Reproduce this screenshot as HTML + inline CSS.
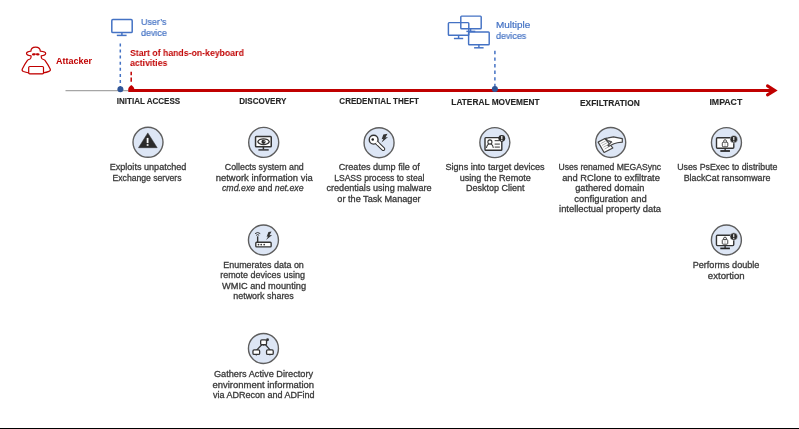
<!DOCTYPE html>
<html><head><meta charset="utf-8">
<style>
html,body{margin:0;padding:0;background:#fff;}
body{width:799px;height:429px;position:relative;overflow:hidden;font-family:"Liberation Sans",sans-serif;}
.a{position:absolute;}
.h{position:absolute;will-change:transform;font-weight:bold;font-size:9.5px;line-height:10px;color:#262626;-webkit-text-stroke:0.15px #262626;white-space:nowrap;text-align:center;width:140px;}
.t{position:absolute;font-size:9px;line-height:10px;color:#3a3a3a;-webkit-text-stroke:0.3px #3a3a3a;will-change:transform;white-space:nowrap;text-align:center;width:200px;}
.t span{display:inline-block;transform-origin:50% 50%;}
.lbl{position:absolute;will-change:transform;font-size:9px;white-space:nowrap;}
.ic{position:absolute;width:36px;height:36px;}
.bot{position:absolute;left:0;top:428px;width:799px;height:1px;background:#000;}
</style></head><body>

<!-- timeline -->
<svg class="a" style="left:0;top:0" width="799" height="429" viewBox="0 0 799 429">
  <line x1="65.5" y1="90.6" x2="130" y2="90.6" stroke="#a6a6a6" stroke-width="1.3"/>
  <line x1="130" y1="90.4" x2="775" y2="90.4" stroke="#c00000" stroke-width="3"/>
  <polyline points="767.5,85.9 774.8,90.4 767.5,94.9" fill="none" stroke="#c00000" stroke-width="3" stroke-linecap="round" stroke-linejoin="miter"/>
  <path d="M128.3 91.9 L128.3 89.2 C128.3 87.6 129.6 86 131.3 84.9 C133 86 134.3 87.6 134.3 89.2 L134.3 91.9 Z" fill="#c00000"/>
  <line x1="120.3" y1="43.4" x2="120.3" y2="87" stroke="#4472c4" stroke-width="1.5" stroke-dasharray="3,3.1"/>
  <circle cx="120.4" cy="89.2" r="3" fill="#2f5597"/>
  <line x1="131.2" y1="71.8" x2="131.2" y2="75.2" stroke="#c00000" stroke-width="1.5"/><line x1="131.2" y1="77.6" x2="131.2" y2="81.8" stroke="#c00000" stroke-width="1.5"/>
  <line x1="494.9" y1="50.8" x2="494.9" y2="87" stroke="#4472c4" stroke-width="1.5" stroke-dasharray="3.4,3.2"/>
  <circle cx="494.9" cy="89" r="3" fill="#2f5597"/>

  <!-- attacker icon -->
  <g transform="translate(18,42)" fill="none" stroke="#c00000" stroke-width="1.2" stroke-linejoin="round">
    <path d="M12.9 9.2 C12.9 6.3 14.2 5.1 17.6 5.1 C21 5.1 22.3 6.3 22.3 9.2 C25.6 9.5 27.7 10.3 27.7 11.5 C27.7 12.9 25.4 13.6 23.2 13.9 C23.3 15 23.2 15.8 23.9 16.6 C24.8 17.4 26 17.6 26.8 18.2 C28.8 21 31 24.5 32.2 27 C32.6 28 32.2 28.9 31 29.4 C27.5 30.8 22.5 31.4 18.2 31.4 C13.7 31.4 8.8 30.8 5.4 29.5 C4.2 29 3.9 28 4.3 27 C5.5 24.5 7.6 21 9.6 18.2 C10.4 17.6 11.6 17.4 12.5 16.6 C13.2 15.8 13.1 15 13.1 13.9 C10.9 13.6 8.5 12.9 8.5 11.5 C8.5 10.3 10.6 9.5 12.9 9.2 Z"/>
    <rect x="10.7" y="24.5" width="14.8" height="7.3" rx="1" fill="#fff"/>
    <ellipse cx="15.7" cy="12.4" rx="1.8" ry="1.1" fill="#c00000" stroke="none"/>
    <ellipse cx="19.8" cy="12.4" rx="1.8" ry="1.1" fill="#c00000" stroke="none"/>
    <line x1="15.6" y1="12.1" x2="19.8" y2="12.1" stroke-width="0.9"/>
  </g>

  <!-- user's device monitor -->
  <g fill="none" stroke="#4472c4" stroke-width="1.5">
    <rect x="111.8" y="19.6" width="20.4" height="13" rx="1.1"/>
    <line x1="121.9" y1="32.6" x2="121.9" y2="35.2"/>
    <line x1="116.8" y1="35.4" x2="126.6" y2="35.4"/>
  </g>

  <!-- multiple devices -->
  <g fill="none" stroke="#4472c4" stroke-width="1.45">
    <rect x="460.8" y="16.1" width="20.4" height="12.7" rx="0.8"/>
    <rect x="448.4" y="22.6" width="20.4" height="12.7" rx="0.8"/>
    <line x1="470.6" y1="28.8" x2="470.6" y2="31.4"/>
    <line x1="466.4" y1="31.4" x2="475.3" y2="31.4"/>
    <line x1="458.6" y1="35.3" x2="458.6" y2="38.4"/>
    <line x1="453.9" y1="38.5" x2="463.2" y2="38.5"/>
    <rect x="468.6" y="32" width="20.6" height="12.7"  rx="0.8"/>
    <line x1="478.9" y1="44.7" x2="478.9" y2="47.8"/>
    <line x1="474.1" y1="47.8" x2="483.6" y2="47.8"/>
  </g>
</svg>

<!-- labels -->
<div class="lbl" style="left:56px;top:55.9px;line-height:10px;font-weight:bold;color:#c00000;">Attacker</div>
<div class="lbl" style="left:140.8px;top:17.4px;line-height:10.6px;font-size:9.4px;color:#4472c4;-webkit-text-stroke:0.2px #4472c4;transform:scaleX(0.95);transform-origin:0 0;">User’s<br>device</div>
<div class="lbl" style="left:496.3px;top:20.1px;line-height:10px;font-size:9.4px;color:#4472c4;-webkit-text-stroke:0.2px #4472c4;transform:scaleX(1.06);transform-origin:0 0;">Multiple</div>
<div class="lbl" style="left:496.3px;top:30.6px;line-height:10px;font-size:9.4px;color:#4472c4;-webkit-text-stroke:0.2px #4472c4;transform:scaleX(0.95);transform-origin:0 0;">devices</div>
<div class="lbl" style="left:129.5px;top:47.5px;line-height:10.3px;font-size:9.4px;font-weight:bold;color:#c00000;transform:scaleX(0.93);transform-origin:0 0;">Start of hands-on-keyboard<br>activities</div>

<!-- headings -->
<div class="h" style="left:77.75px;top:96.3px;"><span style="display:inline-block;transform:scaleX(0.8469)">INITIAL ACCESS</span></div>
<div class="h" style="left:193.25px;top:96.3px;"><span style="display:inline-block;transform:scaleX(0.8488)">DISCOVERY</span></div>
<div class="h" style="left:309.15px;top:96.3px;"><span style="display:inline-block;transform:scaleX(0.8441)">CREDENTIAL THEFT</span></div>
<div class="h" style="left:424.80px;top:97.3px;"><span style="display:inline-block;transform:scaleX(0.8744)">LATERAL MOVEMENT</span></div>
<div class="h" style="left:540.40px;top:98.3px;"><span style="display:inline-block;transform:scaleX(0.8811)">EXFILTRATION</span></div>
<div class="h" style="left:656.15px;top:97.3px;"><span style="display:inline-block;transform:scaleX(0.9189)">IMPACT</span></div>

<!-- descriptions -->
<div class="t" style="left:47.75px;top:162.00px;"><span style="transform:scaleX(1.009)">Exploits unpatched</span></div>
<div class="t" style="left:47.40px;top:173.00px;"><span style="transform:scaleX(0.958)">Exchange servers</span></div>
<div class="t" style="left:163.55px;top:162.00px;"><span style="transform:scaleX(0.981)">Collects system and</span></div>
<div class="t" style="left:163.60px;top:173.00px;"><span style="transform:scaleX(1.049)">network information via</span></div>
<div class="t" style="left:163.35px;top:183.00px;"><span style="transform:scaleX(0.977)"><i>cmd.exe</i> and <i>net.exe</i></span></div>
<div class="t" style="left:279.25px;top:162.00px;"><span style="transform:scaleX(1.006)">Creates dump file of</span></div>
<div class="t" style="left:279.30px;top:173.00px;"><span style="transform:scaleX(0.955)">LSASS process to steal</span></div>
<div class="t" style="left:279.20px;top:183.00px;"><span style="transform:scaleX(1.010)">credentials using malware</span></div>
<div class="t" style="left:279.05px;top:194.00px;"><span style="transform:scaleX(1.016)">or the Task Manager</span></div>
<div class="t" style="left:395.10px;top:162.00px;"><span style="transform:scaleX(1.012)">Signs into target devices</span></div>
<div class="t" style="left:395.10px;top:173.00px;"><span style="transform:scaleX(1.008)">using the Remote</span></div>
<div class="t" style="left:394.90px;top:183.00px;"><span style="transform:scaleX(0.997)">Desktop Client</span></div>
<div class="t" style="left:510.30px;top:162.00px;"><span style="transform:scaleX(0.954)">Uses renamed MEGASync</span></div>
<div class="t" style="left:510.65px;top:173.00px;"><span style="transform:scaleX(1.039)">and RClone to exfiltrate</span></div>
<div class="t" style="left:510.35px;top:183.00px;"><span style="transform:scaleX(1.025)">gathered domain</span></div>
<div class="t" style="left:510.55px;top:194.00px;"><span style="transform:scaleX(1.048)">configuration and</span></div>
<div class="t" style="left:510.10px;top:204.00px;"><span style="transform:scaleX(1.039)">intellectual property data</span></div>
<div class="t" style="left:626.60px;top:162.00px;"><span style="transform:scaleX(0.977)">Uses PsExec to distribute</span></div>
<div class="t" style="left:626.50px;top:173.00px;"><span style="transform:scaleX(0.984)">BlackCat ransomware</span></div>
<div class="t" style="left:164.10px;top:260.00px;"><span style="transform:scaleX(0.995)">Enumerates data on</span></div>
<div class="t" style="left:163.35px;top:270.00px;"><span style="transform:scaleX(0.996)">remote devices using</span></div>
<div class="t" style="left:163.70px;top:281.00px;"><span style="transform:scaleX(1.024)">WMIC and mounting</span></div>
<div class="t" style="left:163.70px;top:291.00px;"><span style="transform:scaleX(0.993)">network shares</span></div>
<div class="t" style="left:163.55px;top:369.00px;"><span style="transform:scaleX(1.022)">Gathers Active Directory</span></div>
<div class="t" style="left:163.25px;top:380.00px;"><span style="transform:scaleX(1.053)">environment information</span></div>
<div class="t" style="left:163.55px;top:390.00px;"><span style="transform:scaleX(1.001)">via ADRecon and ADFind</span></div>
<div class="t" style="left:626.45px;top:260.00px;"><span style="transform:scaleX(1.011)">Performs double</span></div>
<div class="t" style="left:626.45px;top:271.00px;"><span style="transform:scaleX(1.066)">extortion</span></div>

<!-- icon circles -->
<svg class="a" style="left:0;top:0" width="799" height="429" viewBox="0 0 799 429">
  <defs>
    <g id="circ"><circle cx="18" cy="18" r="15" fill="#dde6f5" stroke="#5e5e5e" stroke-width="1.4"/></g>
  </defs>

  <!-- 1 warning -->
  <g transform="translate(130,124.3)">
    <use href="#circ"/>
    <path d="M17.8 8.6 L27.2 23.4 L8.5 23.4 Z" fill="#2b2b2b" stroke="#2b2b2b" stroke-width="0.5" stroke-linejoin="round"/>
    <line x1="17.6" y1="13.6" x2="17.6" y2="18.8" stroke="#fff" stroke-width="1.8"/>
    <rect x="16.7" y="19.9" width="1.8" height="1.6" fill="#fff"/>
  </g>

  <!-- 2 eye monitor -->
  <g transform="translate(245.7,124.4)">
    <use href="#circ"/>
    <rect x="9.85" y="12.15" width="15.7" height="10.3" rx="0.8" fill="#fff" stroke="#333" stroke-width="1.5"/>
    <line x1="17.7" y1="22.4" x2="17.7" y2="25" stroke="#333" stroke-width="1.5"/>
    <line x1="12.7" y1="25.5" x2="23" y2="25.5" stroke="#333" stroke-width="1.5"/>
    <path d="M12.1 17.3 C13.8 13.6 21.9 13.6 23.6 17.3 C21.9 21 13.8 21 12.1 17.3 Z" fill="#fff" stroke="#333" stroke-width="1.3" stroke-linejoin="round"/>
    <circle cx="17.8" cy="17.4" r="2.1" fill="#2a2a2a"/>
    <circle cx="18.5" cy="16.8" r="0.6" fill="#ddd"/>
  </g>

  <!-- 3 key -->
  <g transform="translate(361.05,124.7)">
    <use href="#circ"/>
    <path d="M15.5 17.8 L22.2 24.3" stroke="#333" stroke-width="4" stroke-linecap="round"/>
    <path d="M15.5 17.8 L22.2 24.3" stroke="#fff" stroke-width="1.9" stroke-linecap="round"/>
    <circle cx="12.6" cy="15" r="4.4" fill="#fff" stroke="#333" stroke-width="1.4"/>
    <path d="M15.3 17.6 L17.6 19.9" stroke="#fff" stroke-width="2.1"/>
    <circle cx="11.7" cy="14.7" r="1.25" fill="#1a1a1a"/>
    <path d="M22.3 9.8 L26.4 9 L24.4 12.9 L27 12.4 L20.5 17.8 L22.4 14 L20.6 14.5 Z" fill="#333"/>
  </g>

  <!-- 4 id card -->
  <g transform="translate(476.85,124.6)">
    <use href="#circ"/>
    <rect x="8.15" y="13" width="16.8" height="12.7" rx="0.8" fill="#fff" stroke="#333" stroke-width="1.4"/>
    <path d="M9.6 23.3 Q10.6 18.9 13.05 19.2 Q15.5 19 16.5 23.3" fill="none" stroke="#333" stroke-width="1.05"/>
    <circle cx="13.05" cy="17.3" r="2.05" fill="#fff" stroke="#333" stroke-width="1.05"/>
    <line x1="17.8" y1="16" x2="22.6" y2="16" stroke="#555" stroke-width="1.2"/>
    <line x1="17.8" y1="19.5" x2="23" y2="19.5" stroke="#555" stroke-width="1.2"/>
    <line x1="17.8" y1="22.5" x2="23" y2="22.5" stroke="#555" stroke-width="1.2"/>
    <circle cx="24.95" cy="13.7" r="3.4" fill="#2b2b2b"/>
    <line x1="24.95" y1="11.4" x2="24.95" y2="14.6" stroke="#fff" stroke-width="1.2"/>
    <rect x="24.35" y="15.3" width="1.2" height="1" fill="#fff"/>
  </g>

  <!-- 5 hand/doc -->
  <g transform="translate(592.7,124.45)">
    <use href="#circ"/>
    <path d="M5.4 17.7 L12.2 14.1 L20.1 23.5 L11.4 28 Z" fill="#fff" stroke="#444" stroke-width="1.2" stroke-linejoin="round"/>
    <line x1="8" y1="19.2" x2="12.9" y2="16.6" stroke="#999" stroke-width="0.8"/>
    <line x1="9.3" y1="21" x2="14.2" y2="18.4" stroke="#999" stroke-width="0.8"/>
    <line x1="10.6" y1="22.8" x2="15.5" y2="20.2" stroke="#999" stroke-width="0.8"/>
    <line x1="11.9" y1="24.6" x2="16.8" y2="22" stroke="#999" stroke-width="0.8"/>
    <path d="M12.2 14.1 L15.5 13.5 L20.8 12.4 L24.5 13.2 L29.6 14.2 L29.6 17.7 L24.7 18.3 L21.2 19.3 L18.6 20.6 L16.1 21.8 L15.2 21 L17.4 18.9 L18.8 17.4 L15.6 16.4 Z" fill="#fff" stroke="#444" stroke-width="1.2" stroke-linejoin="round"/>
    <path d="M15.6 16.4 Q18 16.6 19.6 18" fill="none" stroke="#666" stroke-width="0.7"/>
  </g>

  <!-- 6 lock monitor (impact) -->
  <g transform="translate(708.45,124.6)">
    <use href="#circ"/>
    <rect x="8.05" y="13.2" width="17.3" height="10.4" rx="1" fill="#fff" stroke="#333" stroke-width="1.4"/>
    <line x1="16.7" y1="23.6" x2="16.7" y2="26.2" stroke="#333" stroke-width="1.4"/>
    <line x1="11.9" y1="26.4" x2="21.5" y2="26.4" stroke="#222" stroke-width="1.7"/>
    <path d="M15.1 18 L15.1 17.1 Q15.1 15.1 16.6 15.1 Q18.1 15.1 18.1 17.1 L18.1 18" fill="none" stroke="#444" stroke-width="1"/>
    <rect x="13.85" y="17.6" width="5.5" height="4.6" rx="0.9" fill="#fff" stroke="#444" stroke-width="1"/>
    <line x1="16.6" y1="18.4" x2="16.6" y2="21.4" stroke="#999" stroke-width="0.6"/>
    <circle cx="25.35" cy="14.6" r="3.75" fill="#2b2b2b" stroke="#e8eef8" stroke-width="0.5"/>
    <line x1="25.35" y1="12.3" x2="25.35" y2="15.3" stroke="#fff" stroke-width="1.1"/>
    <rect x="24.8" y="16.1" width="1.1" height="1" fill="#fff"/>
  </g>

  <!-- 7 router -->
  <g transform="translate(245.45,222)">
    <use href="#circ"/>
    <rect x="10.35" y="20.25" width="15.35" height="4.6" rx="0.9" fill="#fff" stroke="#333" stroke-width="1.35"/>
    <line x1="12.2" y1="14.3" x2="12.2" y2="20.2" stroke="#333" stroke-width="1.4"/>
    <path d="M10.7 13.3 Q12.2 12 13.7 13.3" fill="none" stroke="#333" stroke-width="1"/>
    <path d="M9.6 11.6 Q12.2 9.4 14.8 11.6" fill="none" stroke="#333" stroke-width="1"/>
    <circle cx="13.05" cy="22.6" r="0.85" fill="#333"/>
    <circle cx="15.75" cy="22.6" r="0.85" fill="#333"/>
    <circle cx="18.75" cy="22.6" r="0.85" fill="#333"/>
    <path d="M23 9.9 L26.1 9.5 L24 13.3 L26.7 13 L20.6 17.9 L22.7 14.5 L21.2 14.8 Z" fill="#333"/>
  </g>

  <!-- 8 hierarchy -->
  <g transform="translate(245.45,330.45)">
    <use href="#circ"/>
    <line x1="16.3" y1="14.3" x2="11.2" y2="19.6" stroke="#333" stroke-width="1.2"/>
    <line x1="20.1" y1="14.3" x2="24.8" y2="19.6" stroke="#333" stroke-width="1.2"/>
    <rect x="15.2" y="9.5" width="5.9" height="4.8" rx="1.2" fill="#fff" stroke="#333" stroke-width="1.3"/>
    <rect x="7.5" y="19.5" width="6.7" height="4.4" rx="1.2" fill="#fff" stroke="#333" stroke-width="1.3"/>
    <rect x="21.1" y="19.5" width="6.7" height="4.4" rx="1.2" fill="#fff" stroke="#333" stroke-width="1.3"/>
    <circle cx="22.1" cy="9.3" r="1.4" fill="#333"/>
    <line x1="10.85" y1="23.9" x2="10.85" y2="25" stroke="#333" stroke-width="1.1"/>
    <line x1="24.45" y1="23.9" x2="24.45" y2="25" stroke="#333" stroke-width="0.9"/>
    <line x1="18.15" y1="14.3" x2="18.15" y2="15.1" stroke="#333" stroke-width="1.1"/>
  </g>

  <!-- 9 lock monitor (double extortion) -->
  <g transform="translate(708.4,222)">
    <use href="#circ"/>
    <rect x="8.05" y="13.2" width="17.3" height="10.4" rx="1" fill="#fff" stroke="#333" stroke-width="1.4"/>
    <line x1="16.7" y1="23.6" x2="16.7" y2="26.2" stroke="#333" stroke-width="1.4"/>
    <line x1="11.9" y1="26.4" x2="21.5" y2="26.4" stroke="#222" stroke-width="1.7"/>
    <path d="M15.1 18 L15.1 17.1 Q15.1 15.1 16.6 15.1 Q18.1 15.1 18.1 17.1 L18.1 18" fill="none" stroke="#444" stroke-width="1"/>
    <rect x="13.85" y="17.6" width="5.5" height="4.6" rx="0.9" fill="#fff" stroke="#444" stroke-width="1"/>
    <line x1="16.6" y1="18.4" x2="16.6" y2="21.4" stroke="#999" stroke-width="0.6"/>
    <circle cx="25.35" cy="14.6" r="3.75" fill="#2b2b2b" stroke="#e8eef8" stroke-width="0.5"/>
    <line x1="25.35" y1="12.3" x2="25.35" y2="15.3" stroke="#fff" stroke-width="1.1"/>
    <rect x="24.8" y="16.1" width="1.1" height="1" fill="#fff"/>
  </g>
</svg>

<div class="bot"></div>
</body></html>
